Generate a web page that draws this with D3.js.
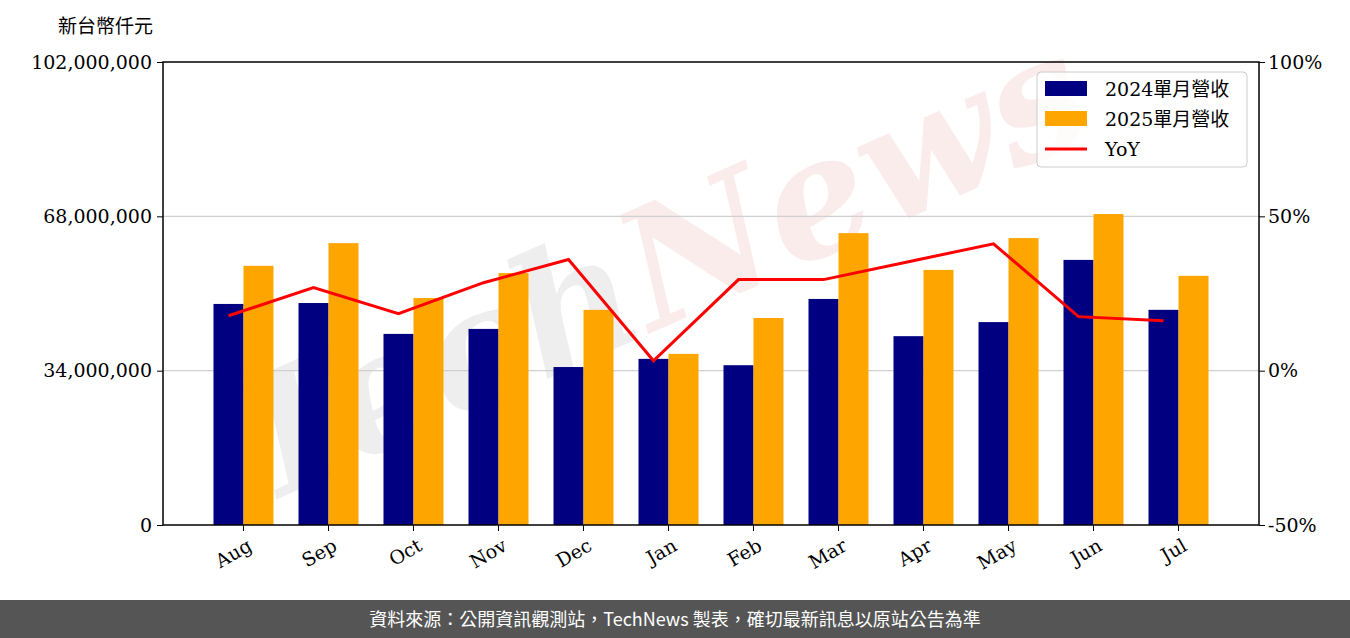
<!DOCTYPE html>
<html><head><meta charset="utf-8">
<script src="https://cdn.jsdelivr.net/npm/d3@7"></script>
<style>body{margin:0;background:#fff}svg{display:block}</style></head>
<body><svg id="c" width="1350" height="638"></svg>
<script>
const months=["Aug","Sep","Oct","Nov","Dec","Jan","Feb","Mar","Apr","May","Jun","Jul"];
const rev2024=[48.7,48.9,42.1,43.2,34.8,36.6,35.2,49.8,41.6,44.7,58.4,47.4].map(v=>v*1e6);
const rev2025=[57.1,62.1,50.0,55.5,47.4,37.7,45.6,64.3,56.2,63.2,68.5,54.9].map(v=>v*1e6);
const yoy=[17.8,26.9,18.5,28.5,36.0,3.2,29.5,29.5,35.3,41.1,17.5,16.2];
const leftTicks=[0,34000000,68000000,102000000];
const rightTicks=[-50,0,50,100];

const svg=d3.select("#c");
const L=163,R=1259,T=62,B=525;
const serif="'DejaVu Serif',serif";
const x=d3.scaleBand().domain(months).range([L,R]).paddingInner(0).paddingOuter(0.447);
const y=d3.scaleLinear().domain([0,102e6]).range([B,T]);
const y2=d3.scaleLinear().domain([-50,100]).range([B,T]);
// watermark
const wm=svg.append("text").attr("transform","translate(680,320) rotate(-24)")
 .attr("text-anchor","middle").attr("font-family","'DejaVu Serif',serif").attr("font-size",165)
 .attr("font-weight","bold").attr("font-style","italic").attr("fill","rgba(150,150,150,0.16)");
wm.append("tspan").text("Tech");
wm.append("tspan").attr("fill","rgba(235,160,160,0.2)").text("News");
// grid
svg.append("g").selectAll("line").data(leftTicks.slice(1,3)).join("line")
 .attr("x1",L).attr("x2",R).attr("y1",d=>y(d)).attr("y2",d=>y(d)).attr("stroke","#d0d0d0").attr("stroke-width",1.2);
const bw=30;
svg.append("g").selectAll("rect").data(months).join("rect")
 .attr("x",d=>x(d)+x.bandwidth()/2-bw).attr("width",bw).attr("y",(d,i)=>y(rev2024[i])).attr("height",(d,i)=>B-y(rev2024[i])).attr("fill","#000080");
svg.append("g").selectAll("rect").data(months).join("rect")
 .attr("x",d=>x(d)+x.bandwidth()/2).attr("width",bw).attr("y",(d,i)=>y(rev2025[i])).attr("height",(d,i)=>B-y(rev2025[i])).attr("fill","#FFA500");
svg.append("path").datum(yoy).attr("fill","none").attr("stroke","#ff0000").attr("stroke-width",3)
 .attr("d",d3.line().x((d,i)=>x(months[i])+x.bandwidth()/2-bw/2).y(d=>y2(d)));
// frame
svg.append("rect").attr("x",L).attr("y",T).attr("width",R-L).attr("height",B-T).attr("fill","none").attr("stroke","#000").attr("stroke-width",1.5);
const ax=svg.append("g").attr("transform",`translate(${L},0)`).call(d3.axisLeft(y).tickValues(leftTicks).tickFormat(d3.format(",")).tickSizeOuter(0).tickSize(6));
ax.select(".domain").remove();
ax.selectAll("text").attr("font-family",serif).attr("font-size",19).attr("fill","#000").attr("dx",-2);
const ar=svg.append("g").attr("transform",`translate(${R},0)`).call(d3.axisRight(y2).tickValues(rightTicks).tickFormat(d=>d+"%").tickSize(6));
ar.select(".domain").remove();
ar.selectAll("text").attr("font-family",serif).attr("font-size",19).attr("fill","#000");
const xb=svg.append("g").attr("transform",`translate(0,${B})`).call(d3.axisBottom(x).tickSize(6).tickSizeOuter(0));
xb.select(".domain").remove();
xb.selectAll("text").attr("font-family",serif).attr("font-size",19).attr("fill","#000")
 .attr("text-anchor","end").attr("transform","rotate(-30)").attr("dx","-0.2em").attr("dy","0.9em");
svg.append("text").attr("x",58).attr("y",33).attr("font-family","'Noto Sans CJK TC',sans-serif").attr("font-size",19).text("新台幣仟元");
// legend
const lg=svg.append("g").attr("transform","translate(1037,72)");
lg.append("rect").attr("width",210).attr("height",95).attr("rx",4).attr("fill","rgba(255,255,255,0.8)").attr("stroke","#ccc");
const items=[["2024單月營收","#000080","bar"],["2025單月營收","#FFA500","bar"],["YoY","#ff0000","line"]];
items.forEach((it,i)=>{const cy=17+i*30;
 if(it[2]=="bar") lg.append("rect").attr("x",8).attr("y",cy-8).attr("width",42).attr("height",15).attr("fill",it[1]);
 else lg.append("line").attr("x1",8).attr("x2",50).attr("y1",cy).attr("y2",cy).attr("stroke",it[1]).attr("stroke-width",3);
 lg.append("text").attr("x",68).attr("y",cy+7).attr("font-family","'DejaVu Serif','Noto Sans CJK TC',serif").attr("font-size",19).text(it[0]);});
// footer
svg.append("rect").attr("x",0).attr("y",600).attr("width",1350).attr("height",38).attr("fill","#555");
svg.append("text").attr("x",675).attr("y",626).attr("text-anchor","middle").attr("fill","#fff")
 .attr("font-family","'Noto Sans CJK TC',sans-serif").attr("font-size",18).text("資料來源：公開資訊觀測站，TechNews 製表，確切最新訊息以原站公告為準");
</script></body></html>
